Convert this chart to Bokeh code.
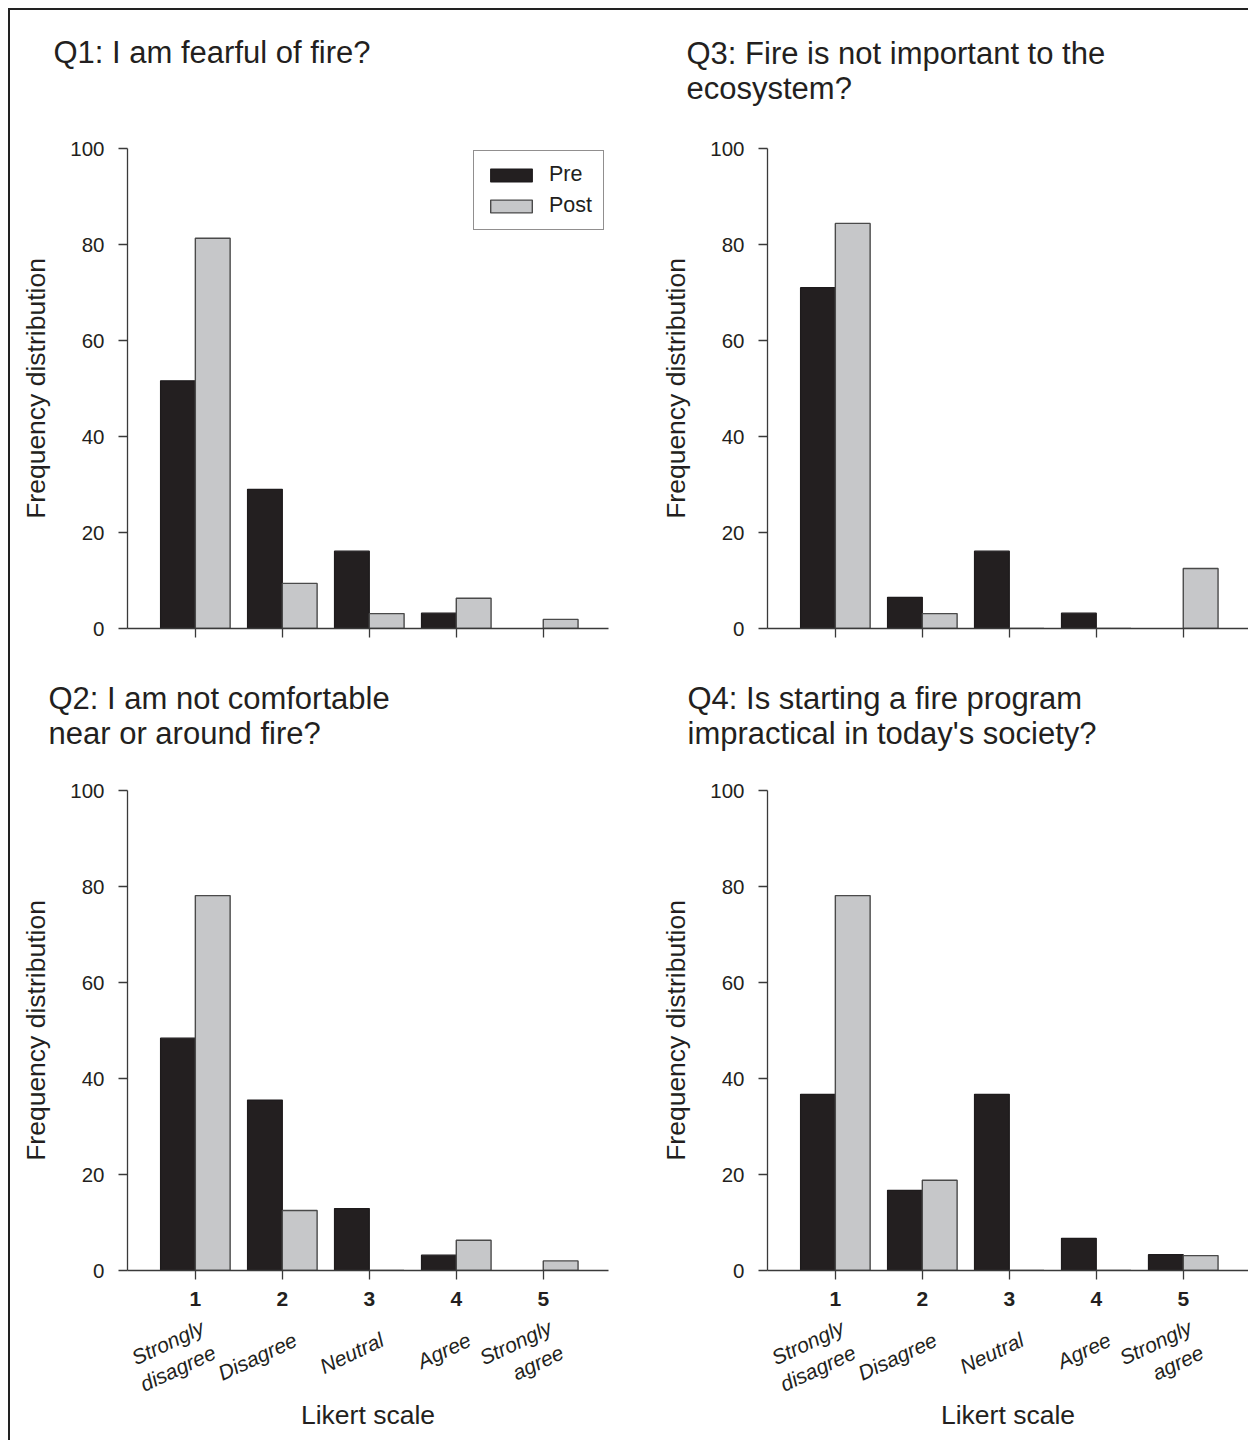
from bokeh.plotting import figure
from bokeh.models import (ColumnDataSource, FixedTicker, LinearAxis,
                          Legend, LegendItem, Range1d, Spacer)
from bokeh.layouts import row, column
from bokeh.transform import dodge
from bokeh.embed import file_html
from bokeh.resources import INLINE

# ---------------- data ----------------
likert = [1, 2, 3, 4, 5]
likert_labels = ["Strongly\ndisagree", "Disagree", "Neutral", "Agree", "Strongly\nagree"]
y_ticks = [0, 20, 40, 60, 80, 100]

q1_title = "Q1: I am fearful of fire?"
q1_pre = [51.6, 29.0, 16.1, 3.2, 0.0]
q1_post = [81.3, 9.4, 3.1, 6.3, 1.9]

q2_title = "Q2: I am not comfortable\nnear or around fire?"
q2_pre = [48.4, 35.5, 12.9, 3.2, 0.0]
q2_post = [78.1, 12.5, 0.0, 6.3, 2.0]

q3_title = "Q3: Fire is not important to the\necosystem?"
q3_pre = [71.0, 6.5, 16.1, 3.2, 0.0]
q3_post = [84.4, 3.1, 0.0, 0.0, 12.5]

q4_title = "Q4: Is starting a fire program\nimpractical in today's society?"
q4_pre = [36.7, 16.7, 36.7, 6.7, 3.3]
q4_post = [78.1, 18.8, 0.0, 0.0, 3.1]

series_names = ["Pre", "Post"]

# ---------------- style ----------------
FONT = "Liberation Sans"
INK = "#231f20"
AXIS = "#3a3a3a"
PRE_FILL = "#231f20"
POST_FILL = "#c6c7c9"
X_START, X_END = 0.22, 5.75
NAME_SHIFT = 0.15   # small rightward shift of the slanted category names


def panel(title, pre, post, width, height, b_left, b_right, b_bottom,
          bottom_row, title_offset, title_gap, legend_loc=None):
    src = ColumnDataSource(dict(x=likert, pre=pre, post=post))
    p = figure(width=width, height=height,
               x_range=Range1d(X_START, X_END), y_range=Range1d(0, 100),
               output_backend="svg", toolbar_location=None,
               min_border_left=b_left, min_border_right=b_right,
               min_border_top=138, min_border_bottom=b_bottom)
    p.xgrid.visible = False
    p.ygrid.visible = False
    p.outline_line_color = None
    p.background_fill_color = "white"
    p.border_fill_color = "white"

    r_pre = p.vbar(x=dodge("x", -0.2), top="pre", width=0.4, bottom=0,
                   source=src, fill_color=PRE_FILL, line_color="#1e1b1c",
                   line_width=1.2)
    r_post = p.vbar(x=dodge("x", 0.2), top="post", width=0.4, bottom=0,
                    source=src, fill_color=POST_FILL, line_color="#4a4a4a",
                    line_width=1.4)

    # x axis
    xa = p.xaxis[0]
    xa.ticker = FixedTicker(ticks=likert)
    xa.minor_tick_line_color = None
    xa.major_tick_out = 9
    xa.major_tick_in = 0
    xa.axis_line_color = AXIS
    xa.axis_line_width = 1.3
    xa.major_tick_line_color = AXIS
    xa.major_tick_line_width = 1.3
    if bottom_row:
        xa.major_label_text_font = FONT
        xa.major_label_text_font_size = "21px"
        xa.major_label_text_font_style = "bold"
        xa.major_label_text_color = INK
        xa.major_label_standoff = 12
        name_ticks = [k + NAME_SHIFT for k in likert]
        xa2 = LinearAxis(ticker=FixedTicker(ticks=name_ticks),
                         major_label_overrides={k: v for k, v in zip(name_ticks, likert_labels)})
        xa2.axis_line_color = None
        xa2.major_tick_line_color = None
        xa2.minor_tick_line_color = None
        xa2.major_tick_out = 0
        xa2.major_tick_in = 0
        xa2.major_label_orientation = 0.44
        xa2.major_label_text_font = FONT
        xa2.major_label_text_font_size = "21px"
        xa2.major_label_text_font_style = "italic"
        xa2.major_label_text_color = INK
        xa2.major_label_standoff = 30
        xa2.axis_label = "Likert scale"
        xa2.axis_label_text_font = FONT
        xa2.axis_label_text_font_size = "26.5px"
        xa2.axis_label_text_font_style = "normal"
        xa2.axis_label_text_color = INK
        xa2.axis_label_standoff = -22
        p.add_layout(xa2, "below")
    else:
        # ticks only, no labels under the upper panels
        xa.major_label_text_font_size = "1px"
        xa.major_label_text_color = None
        xa.major_label_standoff = 0

    # y axis
    ya = p.yaxis[0]
    ya.ticker = FixedTicker(ticks=y_ticks)
    ya.minor_tick_line_color = None
    ya.major_tick_out = 9
    ya.major_tick_in = 0
    ya.axis_line_color = AXIS
    ya.axis_line_width = 1.3
    ya.major_tick_line_color = AXIS
    ya.major_tick_line_width = 1.3
    ya.major_label_text_font = FONT
    ya.major_label_text_font_size = "20.5px"
    ya.major_label_text_color = INK
    ya.major_label_standoff = 14
    ya.axis_label = "Frequency distribution"
    ya.axis_label_text_font = FONT
    ya.axis_label_text_font_size = "26.5px"
    ya.axis_label_text_font_style = "normal"
    ya.axis_label_text_color = INK
    ya.axis_label_standoff = 16

    # empty gap between the frame and the question: an invisible axis whose
    # single white tick (at the right edge) reserves the vertical space
    gap = LinearAxis(ticker=FixedTicker(ticks=[X_END - 0.02]), axis_line_color=None,
                     major_tick_line_color="white", minor_tick_line_color=None,
                     major_tick_out=title_gap, major_tick_in=0,
                     major_label_standoff=0, major_label_text_color=None,
                     major_label_text_font_size="1px")
    p.add_layout(gap, "above")

    # question text as the plot title
    p.title.text = title
    p.title.align = "left"
    p.title.offset = title_offset
    p.title.standoff = 0
    p.title.text_font = FONT
    p.title.text_font_size = "31px"
    p.title.text_font_style = "normal"
    p.title.text_color = INK
    p.title.text_line_height = 1.0

    if legend_loc is not None:
        leg = Legend(items=[LegendItem(label=series_names[0], renderers=[r_pre]),
                            LegendItem(label=series_names[1], renderers=[r_post])],
                     location=legend_loc)
        leg.border_line_color = INK
        leg.border_line_width = 1.3
        leg.padding = 11
        leg.spacing = 6
        leg.margin = 0
        leg.glyph_width = 52
        leg.glyph_height = 16
        leg.label_standoff = 12
        leg.label_height = 20
        leg.label_text_font = FONT
        leg.label_text_font_size = "21.5px"
        leg.label_text_color = INK
        leg.background_fill_alpha = 1
        p.add_layout(leg)
    return p


p1 = panel(q1_title, q1_pre, q1_post, 638, 642, 117, 40, 24, False, -74, 79,
           legend_loc=(346, 398))
p3 = panel(q3_title, q3_pre, q3_post, 600, 642, 119, 0, 24, False, -81, 43)
p2 = panel(q2_title, q2_pre, q2_post, 638, 788, 117, 40, 170, True, -79, 40)
p4 = panel(q4_title, q4_pre, q4_post, 600, 788, 119, 0, 170, True, -80, 40)

framed = column(row(p1, p3), row(p2, p4),
                styles={"border-left": "2px solid #222222",
                        "border-top": "2px solid #222222"})
layout = column(Spacer(width=1240, height=8),
                row(Spacer(width=8, height=1432), framed))

open("out.html", "w").write(file_html(layout, INLINE))
